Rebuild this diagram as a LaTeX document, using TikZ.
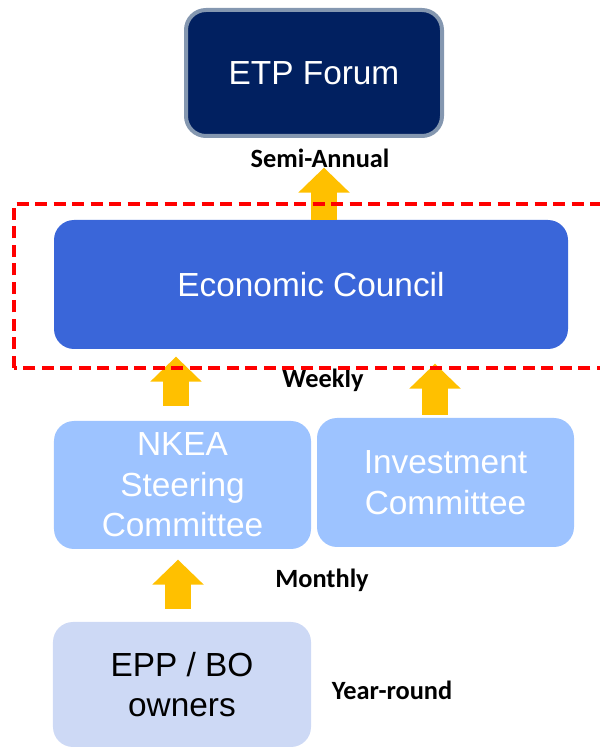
\documentclass[tikz,border=0pt]{standalone}
\usepackage{fontspec}
\setmainfont{Liberation Sans}
\newfontfamily\lblfont{Carlito}
\usetikzlibrary{arrows.meta}
\definecolor{etpnavy}{RGB}{1,32,96}
\definecolor{etpedge}{RGB}{132,151,176}
\definecolor{councilblue}{RGB}{58,102,217}
\definecolor{cttblue}{RGB}{157,195,255}
\definecolor{ownerblue}{RGB}{205,217,245}
\definecolor{arrowgold}{RGB}{255,192,0}
\definecolor{focusred}{RGB}{255,0,0}

\begin{document}
\begin{tikzpicture}[
    box/.style={rounded corners=0.4cm,align=center,font=\fontsize{19}{23}\selectfont,text=white},
    freq/.style={font=\lblfont\bfseries\fontsize{15}{18}\selectfont},
    uparrow/.style={arrowgold,line width=0.52cm,-{Triangle[width=1cm,length=0.5cm]}}]
  \useasboundingbox (0,0) rectangle (12,14.94);
  % top level
  \node[box,fill=etpnavy,draw=etpedge,line width=0.08cm,minimum width=5.12cm,minimum height=2.52cm]
    (etp) at (6.28,13.48) {ETP Forum};
  \node[freq] (semi) at (6.4,11.78) {Semi-Annual};
  % council
  \node[box,fill=councilblue,minimum width=10.28cm,minimum height=2.58cm]
    (ec) at (6.22,9.25) {Economic Council};
  \node[freq] (weekly) at (6.46,7.34) {Weekly};
  % committees
  \node[box,fill=cttblue,minimum width=5.14cm,minimum height=2.56cm]
    (nkea) at (3.65,5.24) {NKEA\\Steering\\Committee};
  \node[box,fill=cttblue,minimum width=5.14cm,minimum height=2.58cm]
    (inv) at (8.91,5.29) {Investment\\Committee};
  \node[freq] (monthly) at (6.44,3.34) {Monthly};
  % owners
  \node[box,fill=ownerblue,text=black,minimum width=5.16cm,minimum height=2.5cm]
    (epp) at (3.64,1.25) {EPP / BO\\owners};
  \node[freq] (yearly) at (7.84,1.14) {Year-round};
  % arrows
  \draw[uparrow] ([xshift=2.6mm]ec.north) -- ++(0,1.04);
  \draw[uparrow] ([xshift=-1.3mm,yshift=3mm]nkea.north) -- ++(0,0.98);
  \draw[uparrow] ([xshift=-2.1mm,yshift=0.6mm]inv.north) -- ++(0,1.02);
  \draw[uparrow] ([xshift=-0.8mm,yshift=2.6mm]epp.north) -- ++(0,0.98);
  % focus frame
  \draw[focusred,line width=0.08cm,dash pattern=on 0.24cm off 0.13cm]
    (0.28,7.58) rectangle (12.2,10.86);
\end{tikzpicture}
\end{document}
